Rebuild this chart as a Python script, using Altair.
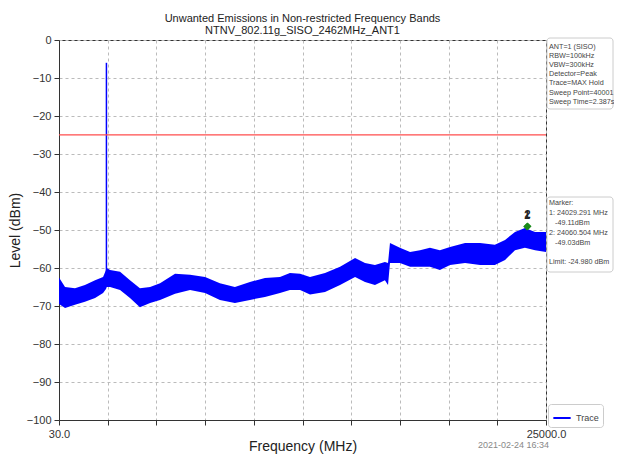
import altair as alt
import pandas as pd

# ---- data ----
freq_mhz = [30, 340, 850, 1360, 1880, 2290, 2440, 2480, 2650, 3160, 3670, 4180, 4700, 5210,
            5980, 6750, 7520, 8280, 9050, 9820, 10590, 11360, 11870, 12390, 12900, 13670,
            14440, 15210, 15720, 16230, 16740, 16900, 17000, 17510, 18030, 18540, 19050,
            19560, 20080, 20850, 21620, 22380, 22900, 23410, 23920, 24440, 25000]
upper_dbm = [-62.5, -65.0, -65.3, -64.5, -63.2, -62.4, -60.5, -60.0, -60.5, -61.0, -63.2, -65.3,
             -65.0, -64.0, -61.5, -61.8, -62.4, -64.0, -65.0, -63.7, -62.6, -62.4, -61.3, -61.5,
             -62.4, -61.3, -59.7, -57.4, -58.7, -59.2, -58.4, -58.7, -53.4, -54.7, -55.8,
             -55.3, -54.7, -55.3, -54.5, -53.4, -53.4, -53.9, -52.6, -50.5, -49.5, -50.5, -50.5]
lower_dbm = [-69.5, -70.5, -69.7, -68.9, -67.9, -66.6, -65.5, -65.0, -65.0, -65.8, -67.9, -70.3,
             -69.2, -68.4, -66.8, -65.8, -66.6, -68.4, -69.2, -68.4, -67.6, -66.6, -65.8, -65.8,
             -67.0, -66.3, -64.5, -62.4, -63.7, -64.5, -63.2, -64.5, -58.7, -58.7, -59.7,
             -59.7, -59.7, -60.5, -59.2, -58.7, -59.2, -59.2, -57.9, -55.3, -54.7, -55.3, -55.8]

spike_freq = [2462]
spike_top = [-6.0]
spike_base = [-62.0]

limit_dbm = -24.98
marker_ids = ["1", "2"]
marker_freq = [24029.291, 24060.504]
marker_dbm = [-49.11, -49.03]

x_ticks = [30 + k * 2497 for k in range(11)]
y_ticks = list(range(-100, 1, 10))

info_lines = ["ANT=1 (SISO)", "RBW=100kHz", "VBW=300kHz", "Detector=Peak",
              "Trace=MAX Hold", "Sweep Point=40001", "Sweep Time=2.387s"]
marker_lines = ["Marker:", "1: 24029.291 MHz", "-49.11dBm", "2: 24060.504 MHz",
                "-49.03dBm", "Limit: -24.980 dBm"]
marker_line_indent = [0, 0, 1, 0, 1, 0]
marker_line_row = [0, 1, 2, 3, 4, 6]
timestamp = "2021-02-24 16:34"

FONT = "Liberation Sans"
W, H = 487, 380

band_df = pd.DataFrame({"f": freq_mhz, "hi": upper_dbm, "lo": lower_dbm})
spike_df = pd.DataFrame({"f": spike_freq, "top": spike_top, "base": spike_base, "s": ["Trace"]})
limit_df = pd.DataFrame({"y": [limit_dbm]})
mk_df = pd.DataFrame({"id": marker_ids, "f": marker_freq, "y": marker_dbm})

xscale = alt.Scale(domain=[30, 25000], nice=False, zero=False)
yscale = alt.Scale(domain=[-100, 0], nice=False)

xaxis = alt.Axis(values=x_ticks, title="Frequency (MHz)",
                 labelExpr="(datum.value == 30 || datum.value == 25000) ? format(datum.value, '.1f') : ''",
                 labelOverlap=False, labelFlush=False,
                 grid=True, gridDash=[3, 3], gridColor="#bbbbbb", tickColor="#333", domainColor="#333",
                 tickSize=5, labelFontSize=11, labelColor="#333", labelFont=FONT, labelPadding=3,
                 titleFont=FONT, titleFontSize=14, titleFontWeight="normal", titleColor="#222",
                 titlePadding=0)
yaxis = alt.Axis(values=y_ticks, title="Level (dBm)", labelOverlap=False, labelFlush=False,
                 labelExpr="format(datum.value, 'd')",
                 grid=True, gridDash=[3, 3], gridColor="#bbbbbb", tickColor="#333", domainColor="#333",
                 tickSize=5, labelFontSize=11, labelColor="#333", labelFont=FONT, labelPadding=3,
                 titleFont=FONT, titleFontSize=14, titleFontWeight="normal", titleColor="#222",
                 titlePadding=4)

band = alt.Chart(band_df).mark_area(color="#0000ff", interpolate="linear", opacity=1).encode(
    x=alt.X("f:Q", scale=xscale, axis=xaxis),
    y=alt.Y("hi:Q", scale=yscale, axis=yaxis),
    y2="lo:Q",
)

spike = alt.Chart(spike_df).mark_rule(strokeWidth=1.5).encode(
    x=alt.X("f:Q", scale=xscale, axis=xaxis), y=alt.Y("top:Q", scale=yscale, axis=yaxis), y2="base:Q",
    color=alt.Color("s:N", scale=alt.Scale(domain=["Trace"], range=["#0000ff"]),
                    legend=alt.Legend(title=None, orient="none", legendX=489, legendY=364,
                                      symbolType="stroke", symbolStrokeWidth=2, symbolSize=300,
                                      labelFontSize=9, labelFont=FONT, labelColor="#444",
                                      strokeColor="#cccccc", fillColor="white", padding=4,
                                      cornerRadius=3)),
)

limit = alt.Chart(limit_df).mark_rule(color="#ff4d4d", strokeWidth=1.3).encode(
    y=alt.Y("y:Q", scale=yscale, axis=yaxis))

pts = alt.Chart(mk_df).mark_point(shape="diamond", filled=True, color="#1a8a1a", size=60, opacity=1).encode(
    x=alt.X("f:Q", scale=xscale, axis=xaxis), y=alt.Y("y:Q", scale=yscale, axis=yaxis))
lbl = alt.Chart(mk_df).mark_text(fontSize=11, fontWeight="bold", color="#222", dy=-11, font=FONT).encode(
    x=alt.X("f:Q", scale=xscale, axis=xaxis), y=alt.Y("y:Q", scale=yscale, axis=yaxis), text="id:N")

# annotation boxes (outside the plot on the right)
BOX_L, BOX_R, TXT_FS = 488, 554, 7.2
box1 = alt.Chart(pd.DataFrame({"a": [0]})).mark_rect(
    fill="white", stroke="#cccccc", cornerRadius=3, clip=False).encode(
    x=alt.value(BOX_L), x2=alt.value(BOX_R), y=alt.value(-2), y2=alt.value(69))
info_df = pd.DataFrame({"t": info_lines, "row": list(range(len(info_lines)))})
info = alt.Chart(info_df).mark_text(align="left", baseline="middle", fontSize=TXT_FS, color="#444",
                                    font=FONT, clip=False).encode(
    x=alt.value(BOX_L + 2),
    y=alt.Y("row:Q", scale=alt.Scale(domain=[0, 100], range=[6.5, 6.5 + 9.2 * 100]), axis=None),
    text="t:N")

box2 = alt.Chart(pd.DataFrame({"a": [0]})).mark_rect(
    fill="white", stroke="#cccccc", cornerRadius=3, clip=False).encode(
    x=alt.value(BOX_L), x2=alt.value(BOX_R), y=alt.value(157), y2=alt.value(232))
mk_text_df = pd.DataFrame({"t": marker_lines, "row": marker_line_row, "ind": marker_line_indent})
mk_text = alt.Chart(mk_text_df).mark_text(align="left", baseline="middle", fontSize=TXT_FS, color="#444",
                                          font=FONT, clip=False).encode(
    x=alt.X("ind:Q", scale=alt.Scale(domain=[0, 1], range=[BOX_L + 2, BOX_L + 8]), axis=None),
    y=alt.Y("row:Q", scale=alt.Scale(domain=[0, 100], range=[163, 163 + 9.9 * 100]), axis=None),
    text="t:N")

ts = alt.Chart(pd.DataFrame({"t": [timestamp]})).mark_text(
    align="right", baseline="middle", fontSize=9, color="#888888", font=FONT, clip=False).encode(
    x=alt.value(490), y=alt.value(405), text="t:N")

plot = alt.layer(band, spike, limit, pts, lbl).resolve_scale(x="shared", y="shared")
annot = alt.layer(box1, info, box2, mk_text, ts).resolve_scale(x="independent", y="independent")

chart = alt.layer(plot, annot).resolve_scale(x="independent", y="independent").properties(
    width=W, height=H,
    title=alt.TitleParams(["Unwanted Emissions in Non-restricted Frequency Bands",
                           "NTNV_802.11g_SISO_2462MHz_ANT1"],
                          fontSize=11, fontWeight="normal", font=FONT, color="#222",
                          anchor="middle", frame="group", offset=6, dy=8, lineHeight=12),
    padding={"left": 51, "top": 32, "right": 68, "bottom": 34},
    autosize=alt.AutoSizeParams(type="none"),
).configure_view(stroke="#333333", strokeWidth=1).configure_axis(
    labelFont=FONT, titleFont=FONT, labelOverlap=False
)

chart.save("out.html", embed_options={"renderer": "svg", "actions": False})
